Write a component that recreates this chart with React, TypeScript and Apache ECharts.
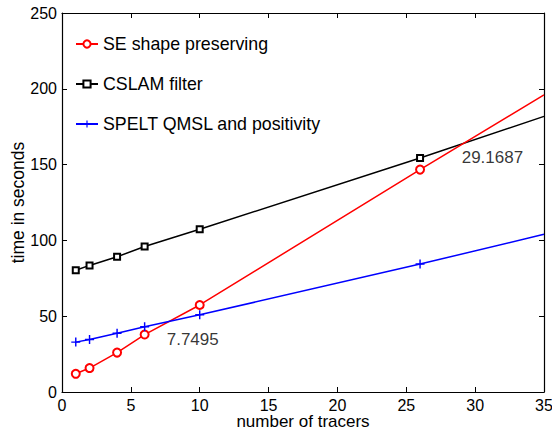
import React, { useEffect, useRef } from "react";
import * as echarts from "echarts";

const tracers = [1, 2, 4, 6, 10, 26, 35];
const seShape = [12, 15.8, 26, 37.9, 57.4, 146.7, 196];
const cslam = [80.3, 83.5, 89.2, 96, 107.4, 154.3, 181.8];
const spelt = [32.9, 34.6, 38.8, 43, 50.9, 84.4, 104];
const xTicks = [0, 5, 10, 15, 20, 25, 30, 35];
const yTicks = [0, 50, 100, 150, 200, 250];
const annotations = [
  { text: "29.1687", x: 29.1687, y: 154.8 },
  { text: "7.7495", x: 7.7495, y: 34.4 },
];

const FONT = "'Liberation Sans', Arial, Helvetica, sans-serif";
const PLUS = "path://M4.2,0h1.6v4.2h4.2v1.6h-4.2v4.2h-1.6v-4.2h-4.2v-1.6h4.2z";

function toData(vals: number[]) {
  return vals.map((v, i) =>
    i === vals.length - 1
      ? { value: [tracers[i], v], symbol: "none" }
      : { value: [tracers[i], v] }
  );
}

export default function App() {
  const ref = useRef<HTMLDivElement>(null);
  useEffect(() => {
    document.body.style.margin = "0";
    const chart = echarts.init(ref.current!, null, { renderer: "svg" });
    const axisCommon = {
      type: "value" as const,
      axisLine: { show: true, onZero: false, lineStyle: { color: "#000", width: 1.2 } },
      axisTick: { show: true, inside: true, length: 5, lineStyle: { color: "#000" } },
      splitLine: { show: false },
    };
    chart.setOption({
      animation: false,
      backgroundColor: "#fff",
      grid: {
        left: 62,
        right: 8,
        top: 13,
        bottom: 38,
        containLabel: false,
        outerBoundsMode: "none",
      },
      legend: {
        orient: "vertical",
        left: 70,
        top: 30,
        itemGap: 22,
        itemWidth: 22,
        itemHeight: 9,
        textStyle: { fontFamily: FONT, fontSize: 17.8, color: "#000" },
        data: ["SE shape preserving", "CSLAM filter", "SPELT QMSL and positivity"],
      },
      xAxis: [
        {
          ...axisCommon,
          min: 0,
          max: 35,
          interval: 5,
          name: "number of tracers",
          nameLocation: "middle",
          nameMoveOverlap: false,
          nameGap: 21,
          nameTextStyle: { fontFamily: FONT, fontSize: 17, lineHeight: 17, color: "#000" },
          axisLabel: {
            fontFamily: FONT,
            fontSize: 16,
            color: "#000",
            margin: 5,
            customValues: xTicks,
          },
        },
        {
          ...axisCommon,
          position: "top",
          min: 0,
          max: 35,
          interval: 5,
          axisLabel: { show: false },
        },
      ],
      yAxis: [
        {
          ...axisCommon,
          min: 0,
          max: 250,
          interval: 50,
          name: "time in seconds",
          nameLocation: "middle",
          nameMoveOverlap: false,
          nameGap: 35,
          nameTextStyle: { fontFamily: FONT, fontSize: 17.5, color: "#000" },
          axisLabel: {
            fontFamily: FONT,
            fontSize: 16,
            color: "#000",
            margin: 5,
            customValues: yTicks,
          },
        },
        {
          ...axisCommon,
          position: "right",
          min: 0,
          max: 250,
          interval: 50,
          axisLabel: { show: false },
        },
      ],
      series: [
        {
          name: "SE shape preserving",
          type: "line",
          data: toData(seShape),
          symbol: "emptyCircle",
          symbolSize: 8,
          color: "#ff0000",
          lineStyle: { width: 1.5, color: "#ff0000" },
          itemStyle: { color: "#ff0000", borderWidth: 1.5 },
          z: 3,
        },
        {
          name: "CSLAM filter",
          type: "line",
          data: toData(cslam),
          symbol: "emptyRect",
          symbolSize: 6,
          color: "#000",
          lineStyle: { width: 1.5, color: "#000" },
          itemStyle: { color: "#000", borderWidth: 1.3 },
          z: 2,
        },
        {
          name: "SPELT QMSL and positivity",
          type: "line",
          data: toData(spelt),
          symbol: PLUS,
          symbolSize: 9,
          color: "#0000ff",
          lineStyle: { width: 1.5, color: "#0000ff" },
          itemStyle: { color: "#0000ff", borderWidth: 0 },
          z: 4,
        },
        {
          type: "scatter",
          data: annotations.map((a) => ({ value: [a.x, a.y], name: a.text })),
          symbolSize: 0,
          silent: true,
          label: {
            show: true,
            formatter: (p: any) => p.name,
            position: "right",
            distance: 0,
            fontFamily: FONT,
            fontSize: 17,
            color: "#000",
            offset: [-2, 0],
          },
          z: 5,
        },
      ],
    });
    return () => chart.dispose();
  }, []);
  return <div ref={ref} style={{ width: 552, height: 430 }} />;
}
